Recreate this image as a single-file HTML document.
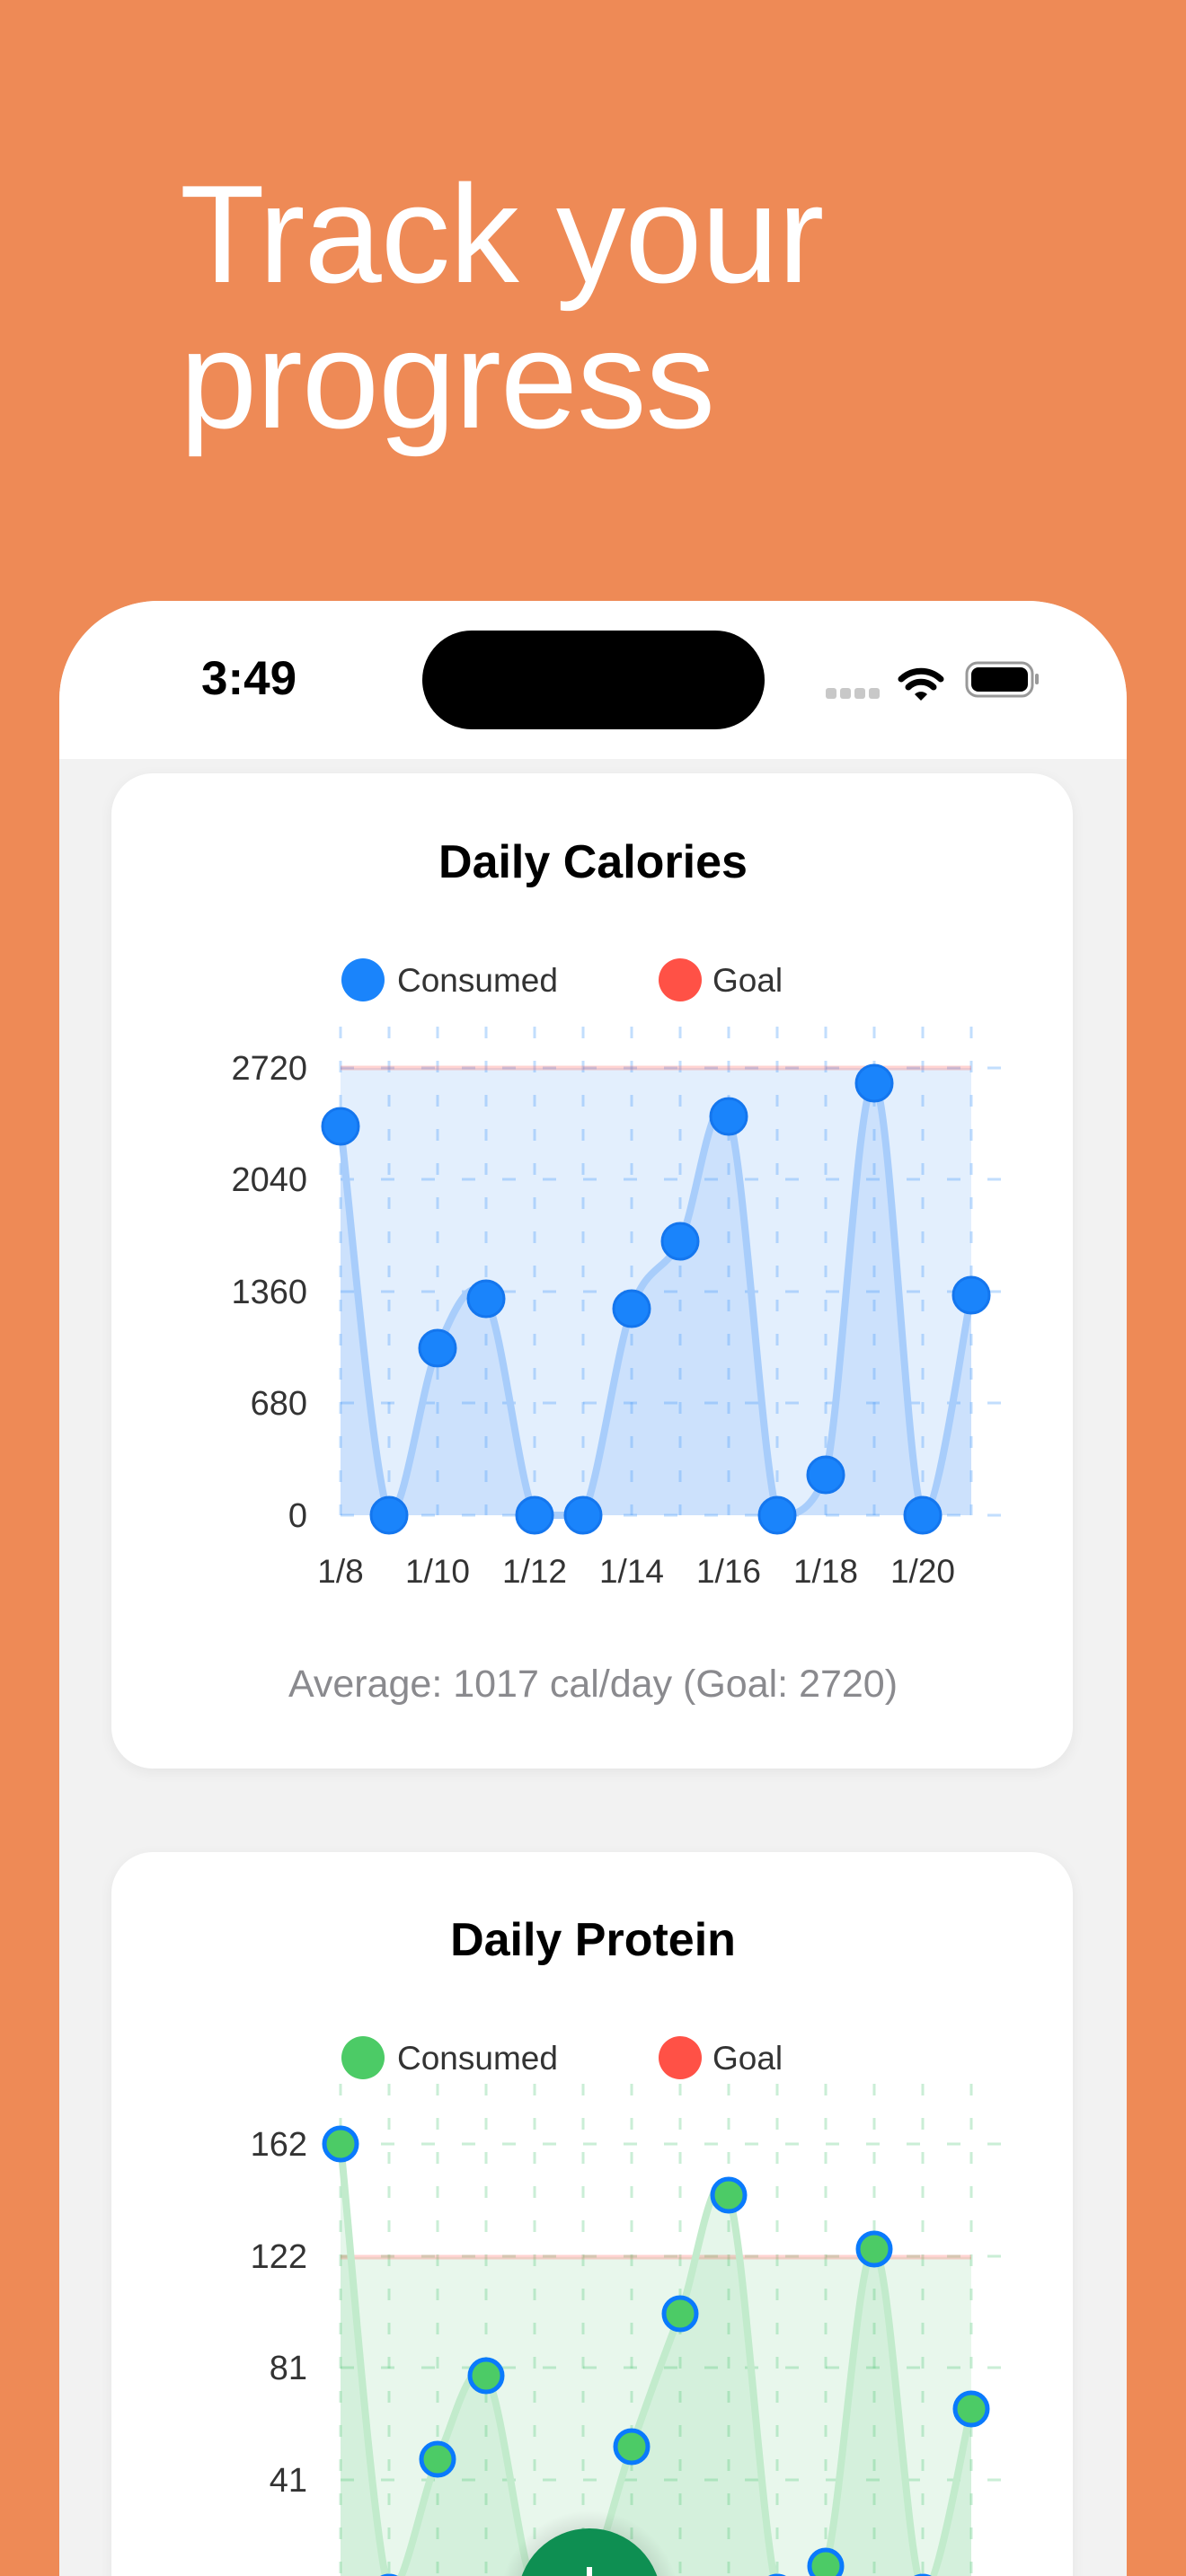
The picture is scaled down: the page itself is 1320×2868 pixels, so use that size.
<!DOCTYPE html>
<html><head><meta charset="utf-8"><style>
html,body{margin:0;padding:0;}
body{width:1320px;height:2868px;background:#ee8a56;position:relative;overflow:hidden;font-family:"Liberation Sans",sans-serif;}
.h{position:absolute;left:200px;top:180px;color:#fff;font-size:155px;line-height:162px;font-weight:400;margin:0;letter-spacing:-1px}
.phone{position:absolute;left:66px;top:669px;width:1188px;height:2199px;background:#f2f2f2;border-radius:110px 110px 0 0;overflow:hidden}
.sb{position:absolute;left:0;top:0;width:100%;height:176px;background:#fff}
.time{position:absolute;left:158px;top:56px;font-size:53px;font-weight:700;color:#000}
.island{position:absolute;left:404px;top:33px;width:381px;height:110px;background:#000;border-radius:55px}
.card{position:absolute;left:58px;width:1070px;background:#fff;border-radius:46px;box-shadow:0 4px 16px rgba(0,0,0,0.06)}
svg{overflow:hidden}
svg text{font-family:"Liberation Sans",sans-serif}
</style></head><body>
<div class="h">Track your<br>progress</div>
<div class="phone">
  <div class="sb">
    <div class="time">3:49</div>
    <div class="island"></div>
    <svg style="position:absolute;left:0;top:0" width="1188" height="176">
      <g fill="#c8c8c8"><rect x="853" y="97" width="12" height="12" rx="3"/><rect x="869" y="97" width="12" height="12" rx="3"/><rect x="885" y="97" width="12" height="12" rx="3"/><rect x="901" y="97" width="12" height="12" rx="3"/></g>
      <g fill="none" stroke="#000" stroke-width="7" stroke-linecap="round">
        <path d="M937 87 A32 32 0 0 1 981 87"/><path d="M945 96 A20 20 0 0 1 973 96"/>
      </g>
      <path d="M952 104 L959 111 L966 104 A10 10 0 0 0 952 104Z" fill="#000"/>
      <rect x="1010" y="69" width="73" height="37" rx="12" fill="none" stroke="#999" stroke-width="3"/>
      <rect x="1015" y="74" width="63" height="27" rx="8" fill="#000"/>
      <rect x="1086" y="81" width="4" height="12" rx="2" fill="#999"/>
    </svg>
  </div>
  <div class="card" style="top:192px;height:1108px"></div>
  <div class="card" style="top:1393px;height:1200px"></div>
</div>
<svg id="ch" style="position:absolute;left:0;top:0" width="1320" height="2868"></svg>
<svg style="position:absolute;left:0;top:0" width="1320" height="2868">
  <defs><radialGradient id="sh"><stop offset="0.7" stop-color="rgba(0,0,0,0.12)"/><stop offset="1" stop-color="rgba(0,0,0,0)"/></radialGradient></defs>
  <circle cx="656" cy="2895" r="100" fill="url(#sh)"/>
  <circle cx="656" cy="2895" r="80" fill="#0e8f52"/>
  <rect x="653" y="2858" width="6" height="20" fill="#fff"/>
</svg>
<script>
function smooth(p,maxY){let d=`M${p[0][0]} ${p[0][1]}`;const cl=y=>Math.min(y,maxY);for(let i=0;i<p.length-1;i++){const p0=p[i-1]||p[i],p1=p[i],p2=p[i+1],p3=p[i+2]||p2;const c1=[p1[0]+(p2[0]-p0[0])/6,cl(p1[1]+(p2[1]-p0[1])/6)],c2=[p2[0]-(p3[0]-p1[0])/6,cl(p2[1]-(p3[1]-p1[1])/6)];d+=` C${c1[0]} ${c1[1]} ${c2[0]} ${c2[1]} ${p2[0]} ${p2[1]}`;}return d;}
let s='';
function chart(o){
  const xs=o.ys.map((_,i)=>379+i*54);
  const L=379,R=1081;
  s+=`<text x="660" y="${o.ty}" text-anchor="middle" font-size="52" font-weight="700" fill="#000">${o.title}</text>`;
  s+=`<circle cx="404" cy="${o.ly}" r="24" fill="${o.c}"/><text x="442" y="${o.ly+13}" font-size="37" fill="#333">Consumed</text>`;
  s+=`<circle cx="757" cy="${o.ly}" r="24" fill="#ff5146"/><text x="793" y="${o.ly+13}" font-size="37" fill="#333">Goal</text>`;
  s+=`<rect x="${L}" y="${o.goal}" width="${R-L}" height="${o.y0-o.goal}" fill="${o.f1}"/>`;
  const pts=o.ys.map((y,i)=>[xs[i],y]);
  const path=smooth(pts,o.y0);
  s+=`<path d="${path} L${R} ${o.y0} L${L} ${o.y0}Z" fill="${o.f2}"/>`;
  for(let i=0;i<14;i++){const x=L+i*54;s+=`<line x1="${x}" y1="${o.gt}" x2="${x}" y2="${o.y0}" stroke="${o.g}" stroke-width="3" stroke-dasharray="13 25"/>`;}
  o.grid.forEach(y=>{s+=`<line x1="${L}" y1="${y}" x2="1121" y2="${y}" stroke="${o.g}" stroke-width="3" stroke-dasharray="15 30"/>`;});
  s+=`<line x1="${L}" y1="${o.goal}" x2="${R}" y2="${o.goal}" stroke="rgba(255,80,70,0.25)" stroke-width="5"/>`;
  s+=`<path d="${path}" fill="none" stroke="${o.line}" stroke-width="8"/>`;
  pts.forEach(p=>{s+=`<circle cx="${p[0]}" cy="${p[1]}" r="${o.r}" fill="${o.c}" stroke="${o.stroke}" stroke-width="${o.sw}"/>`;});
  o.labels.forEach((t,i)=>{s+=`<text x="342" y="${o.grid[i]+13}" text-anchor="end" font-size="38" fill="#333">${t}</text>`;});
  if(o.x){['1/8','1/10','1/12','1/14','1/16','1/18','1/20'].forEach((t,i)=>{s+=`<text x="${L+i*108}" y="1762" text-anchor="middle" font-size="37" fill="#333">${t}</text>`;});
  s+=`<text x="660" y="1889" text-anchor="middle" font-size="43" fill="#8a8a8e">Average: 1017 cal/day (Goal: 2720)</text>`;}
}
chart({title:'Daily Calories',ty:977,ly:1091,c:'#1a84fb',stroke:'#1476ee',sw:3,r:20,f1:'#e3effd',f2:'rgba(160,200,250,0.35)',g:'rgba(80,160,250,0.35)',line:'#a8cdfb',
 goal:1189,y0:1687,gt:1143,grid:[1189,1313,1438,1562,1687],labels:['2720','2040','1360','680','0'],x:true,
 ys:[1254,1687,1501,1446,1687,1687,1457,1382,1243,1687,1642,1206,1687,1442]});
chart({title:'Daily Protein',ty:2177,ly:2291,c:'#4ccb66',stroke:'#0a7afc',sw:5,r:18,f1:'#e8f7ec',f2:'rgba(150,220,170,0.25)',g:'rgba(80,200,120,0.3)',line:'#c2ebcc',
 goal:2513,y0:2886,gt:2320,grid:[2387,2512,2636,2761,2886],labels:['162','122','81','41','0'],x:false,
 ys:[2387,2886,2738,2645,2886,2886,2724,2576,2444,2886,2857,2504,2886,2682]});
document.getElementById('ch').innerHTML=s;
</script>
</body></html>
